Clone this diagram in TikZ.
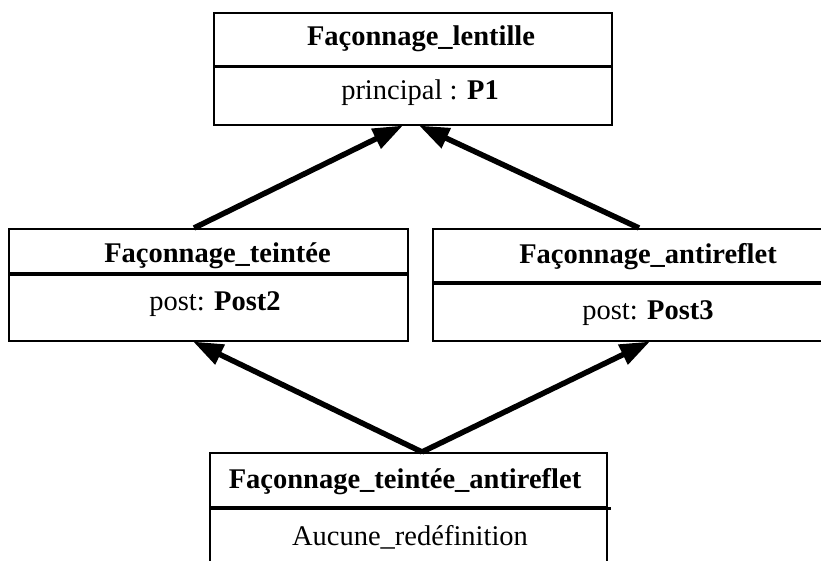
\documentclass[tikz,border=0pt]{standalone}
\usepackage{fontspec}
\setmainfont{Liberation Serif}
\usetikzlibrary{arrows.meta,calc}
\tikzset{
  compart/.style={draw, line width=2pt, inner sep=0pt, rectangle},
  divider/.style={line width=3pt},
  lbl/.style={anchor=base, inner sep=0pt, font=\fontsize{28.5}{32}\selectfont},
  ttl/.style={lbl, font=\fontsize{28.5}{32}\selectfont\bfseries},
  arr/.style={line width=5.5pt, -{Triangle[length=30pt,width=21pt]}, shorten >=-1pt}
}
\begin{document}
\begin{tikzpicture}[x=1pt,y=-1pt]
\useasboundingbox (0,0) rectangle (821,561);
\clip (0,0) rectangle (821,561);
% top box
\node[compart, minimum width=398pt, minimum height=53pt] (tt) at (413,39.5) {};
\node[compart, minimum width=398pt, minimum height=59pt] (tb) at (413,95.5) {};
\draw[divider] (tt.south west) -- (tt.south east);
\node[ttl] (ttx) at (421,46) {Façonnage\_lentille};
\node[lbl] (tbx) at (420,100) {principal : \textbf{P1}};
% left box
\node[compart, minimum width=399pt, minimum height=44pt] (lt) at (208.5,251) {};
\node[compart, minimum width=399pt, minimum height=68pt] (lb) at (208.5,307) {};
\draw[divider] (lt.south west) -- (lt.south east);
\node[ttl] (ltx) at (217.5,262) {Façonnage\_teintée};
\node[lbl] (lbx) at (215,310) {post: \textbf{Post2}};
% right box (cut by the right edge)
\node[compart, minimum width=428pt, minimum height=53pt] (rt) at (647,255.5) {};
\node[compart, minimum width=428pt, minimum height=59pt] (rb) at (647,311.5) {};
\draw[divider] (rt.south west) -- (rt.south east);
\node[ttl] (rtx) at (648,263) {Façonnage\_antireflet};
\node[lbl] (rbx) at (648,319) {post: \textbf{Post3}};
% bottom box (cut by the bottom edge)
\node[compart, minimum width=397pt, minimum height=54pt] (bt) at (408.5,480) {};
\node[compart, minimum width=397pt, minimum height=100pt] (bb) at (408.5,557) {};
\draw[divider] (bt.south west) -- ($(bt.south east)+(3,0)$);
\node[ttl] (btx) at (405,488) {Façonnage\_teintée\_antireflet};
\node[lbl] (bbx) at (410,545) {Aucune\_redéfinition};
% arrows
\draw[arr] ($(lt.north west)+(186,0)$) -- ($(tb.south)+(-11,0)$);
\draw[arr] ($(rt.north west)+(207,0)$) -- ($(tb.south)+(7,0)$);
\draw[arr] ($(bt.north)+(13.5,0)$) -- ($(lb.south west)+(186,0)$);
\draw[arr] ($(bt.north)+(13.5,0)$) -- ($(rb.south west)+(217,0)$);
\end{tikzpicture}
\end{document}
